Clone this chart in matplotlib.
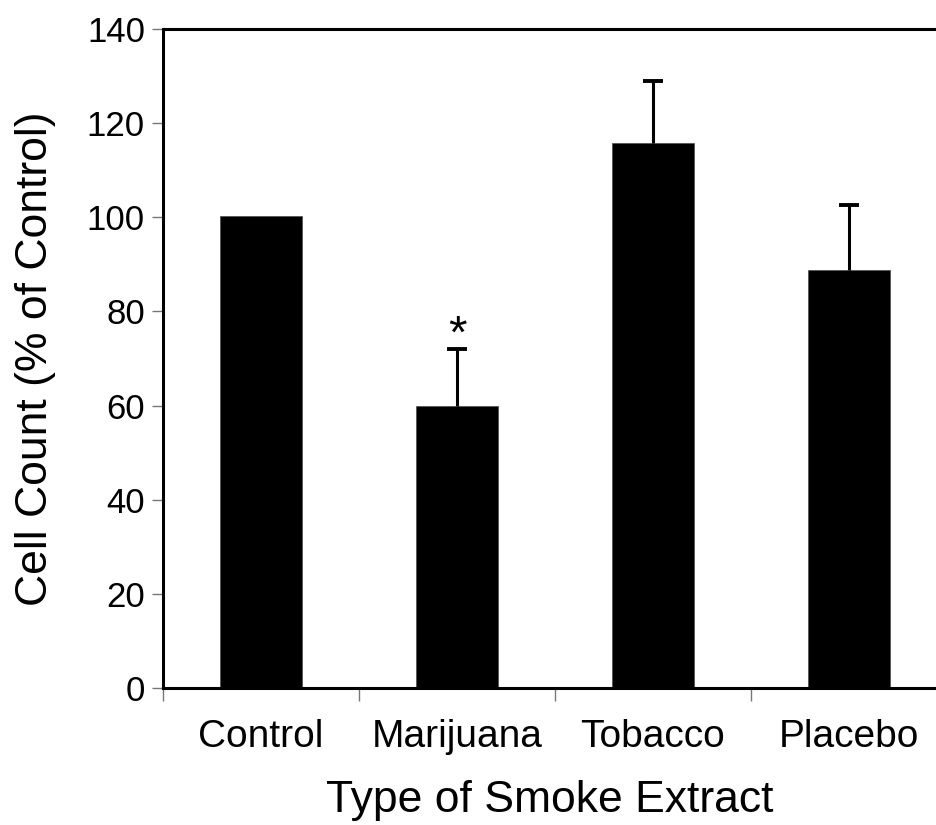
import matplotlib
matplotlib.use("Agg")
import matplotlib.pyplot as plt

plt.rcParams['font.family'] = ['Liberation Sans', 'DejaVu Sans']

categories = ["Control", "Marijuana", "Tobacco", "Placebo"]
values = [100.3, 60.0, 115.8, 88.7]
errors = [0.0, 12.0, 13.1, 13.9]
significant = [False, True, False, False]
y_ticks = [0, 20, 40, 60, 80, 100, 120, 140]

fig = plt.figure(figsize=(9.37, 8.25), dpi=100)
ax = fig.add_axes([163/937, 137/825, (937-163)/937, (796-137)/825])

x = list(range(len(categories)))
ax.bar(x, values, width=0.42, color="black", edgecolor="#555555", linewidth=0.6, zorder=2)
for xi, v, e in zip(x, values, errors):
    if e > 0:
        ax.vlines(xi, v, v + e, colors="black", linewidth=2.2, zorder=3)
        ax.plot([xi], [v + e], marker="_", markersize=14, markeredgewidth=2.8,
                color="black", zorder=3)
for xi, v, e, s in zip(x, values, errors, significant):
    if s:
        ax.annotate("*", (xi, v + e), xytext=(0, -6), textcoords="offset points",
                    ha="center", va="bottom", fontsize=34)

ax.set_xlim(-0.5, -0.5 + 774/196)
ax.set_ylim(0, 140)
ax.set_yticks(y_ticks)
ax.set_yticklabels([str(t) for t in y_ticks], fontsize=25)

# category labels at centers, tick marks at boundaries
ax.set_xticks([i - 0.5 for i in range(len(categories))])
ax.set_xticklabels([])
ax.set_xticks(x, minor=True)
ax.set_xticklabels(categories, minor=True, fontsize=28)
ax.tick_params(axis="x", which="minor", length=0, pad=22)
ax.tick_params(axis="x", which="major", length=9, width=1, color="#777777", direction="out")
ax.tick_params(axis="y", length=8, width=1, color="#777777", direction="out", pad=5)

for s in ["left", "bottom", "top"]:
    ax.spines[s].set_linewidth(2.2)
    ax.spines[s].set_color("black")
ax.spines["right"].set_visible(False)

ax.set_xlabel("Type of Smoke Extract", fontsize=32, labelpad=18)
ax.set_ylabel("Cell Count (% of Control)", fontsize=32, labelpad=22)

fig.savefig("out.png", dpi=100, facecolor="white")
